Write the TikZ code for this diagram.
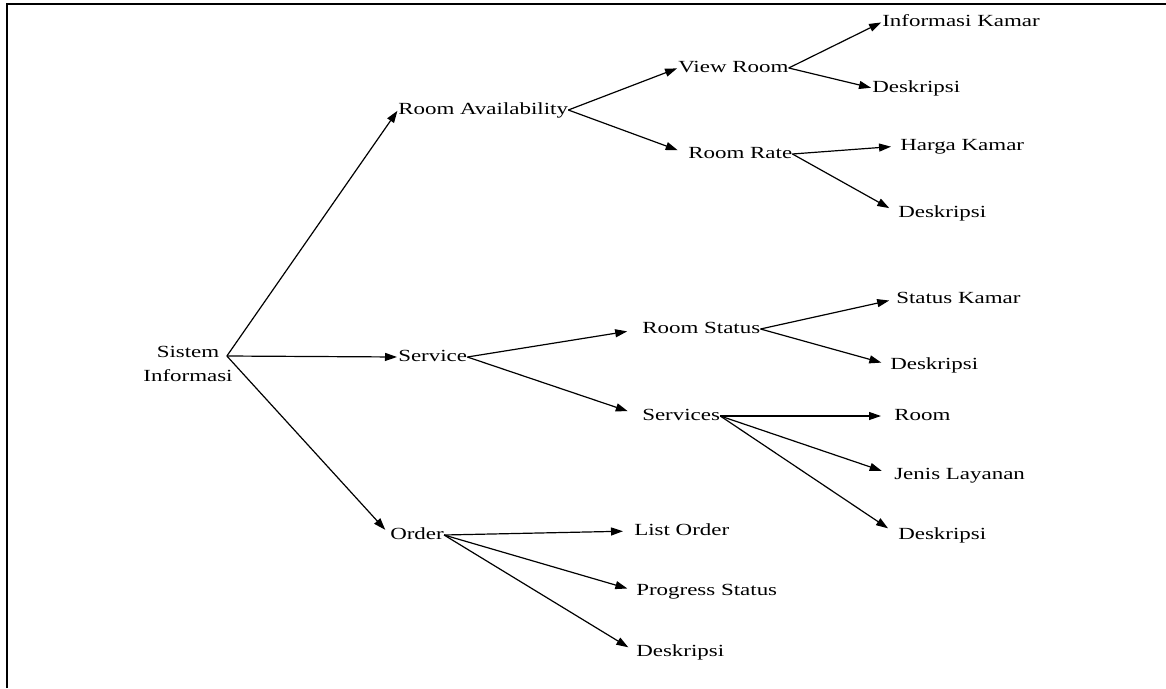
\documentclass[tikz,border=0pt]{standalone}
\usepackage{fontspec}
\setmainfont{Liberation Serif}
\usetikzlibrary{arrows.meta}

\begin{document}
\begin{tikzpicture}[x=1pt, y=-1pt,
    every node/.style={font=\fontsize{17pt}{24pt}\selectfont, xscale=1.35, inner sep=0pt, anchor=west, text height=12pt, text depth=4pt},
    arrow/.style={line width=1.2pt, -{Triangle[length=12pt, width=8pt]}}]

        \useasboundingbox (0,0) rectangle (1166,688);
        % Page frame (only top and left edges are visible)
        \draw[line width=2.5pt] (7,688) -- (7,4) -- (1166,4);

        % Root
        \node[anchor=center, align=center] (si) at (188,377) {Sistem\\Informasi};
        \coordinate (siout) at ([shift={(-6,-21)}]si.east);

        % First level
        \node (ra) at (398,110) {Room Availability};
        \node (sv) at (398,357) {Service};
        \node (or) at (390,535) {Order};

        \draw[arrow, shorten >=1pt] (siout) -- (ra.west);
        \draw[arrow, shorten >=1pt] (siout) -- (sv.west);
        \draw[arrow, shorten >=7pt] (siout) -- (or.west);

        % Room Availability
        \node (vr) at (678,68) {View Room};
        \node (rr) at (688,154) {Room Rate};
        \draw[arrow, shorten >=1pt] (ra.east) -- (vr.west);
        \draw[arrow, shorten >=11pt] (ra.east) -- (rr.west);

        \node (ik) at (882,22) {Informasi Kamar};
        \node (vrd) at (872,88) {Deskripsi};
        \draw[arrow, shorten >=1pt] (vr.east) -- (ik.west);
        \draw[arrow, shorten >=1pt] (vr.east) -- (vrd.west);

        \node (hk) at (900,146) {Harga Kamar};
        \node (rrd) at (898,213) {Deskripsi};
        \draw[arrow, shorten >=9pt] (rr.east) -- (hk.west);
        \draw[arrow, shorten >=10pt] (rr.east) -- (rrd.west);

        % Service
        \node (rs) at (642,329) {Room Status};
        \node (svs) at (642,416) {Services};
        \draw[arrow, shorten >=15pt] (sv.east) -- (rs.west);
        \draw[arrow, shorten >=15pt] (sv.east) -- (svs.west);

        \node (sk) at (896,299) {Status Kamar};
        \node (rsd) at (890,365) {Deskripsi};
        \draw[arrow, shorten >=7pt] (rs.east) -- (sk.west);
        \draw[arrow, shorten >=9pt] (rs.east) -- (rsd.west);

        \node (rm) at (894,416) {Room};
        \node (jl) at (894,475) {Jenis Layanan};
        \node (svd) at (898,535) {Deskripsi};
        \draw[arrow, shorten >=13pt] (svs.east) -- (rm.west);
        \draw[arrow, shorten >=13pt] (svs.east) -- (jl.west);
        \draw[arrow, shorten >=12pt] (svs.east) -- (svd.west);

        % Order
        \node (lo) at (634,531) {List Order};
        \node (ps) at (636,591) {Progress Status};
        \node (ord) at (636,652) {Deskripsi};
        \draw[arrow, shorten >=11pt] (or.east) -- (lo.west);
        \draw[arrow, shorten >=9pt] (or.east) -- (ps.west);
        \draw[arrow, shorten >=9pt] (or.east) -- (ord.west);

\end{tikzpicture}
\end{document}
